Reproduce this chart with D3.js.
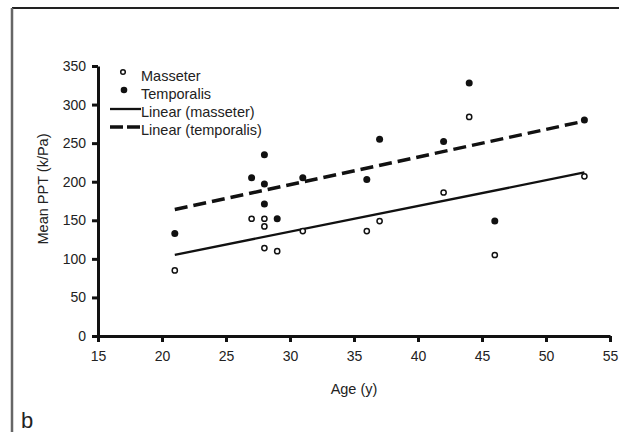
<!DOCTYPE html>
<html>
<head>
<meta charset="utf-8">
<script src="https://cdn.jsdelivr.net/npm/d3@7"></script>
<style>
	body { margin: 0; background: #ffffff; }
	text { font-family: "Liberation Sans", Arial, sans-serif; fill: #222222; }
</style>
</head>
<body>
<script>
// ages of the subjects (same for both muscles)
var ages = [21, 27, 28, 28, 28, 29, 31, 36, 37, 42, 44, 46, 53];
var masseter = [85, 152, 142, 152, 114, 110, 136, 136, 149, 186, 284, 105, 207];
var temporalis = [133, 205, 235, 197, 171, 152, 205, 203, 255, 252, 328, 149, 280];
var xTicks = [15, 20, 25, 30, 35, 40, 45, 50, 55];
var yTicks = [0, 50, 100, 150, 200, 250, 300, 350];
var legendLabels = ["Masseter", "Temporalis", "Linear (masseter)", "Linear (temporalis)"];

var svg = d3.select("body")
	.append("svg")
	.attr("width", 619)
	.attr("height", 432);

// frame of the panel
svg.append("line")
	.attr("x1", 12).attr("y1", 8).attr("x2", 619).attr("y2", 8)
	.attr("stroke", "#222222").attr("stroke-width", 2);
svg.append("line")
	.attr("x1", 12).attr("y1", 8).attr("x2", 12).attr("y2", 432)
	.attr("stroke", "#666666").attr("stroke-width", 2.5);

var x = d3.scaleLinear().domain([15, 55]).range([98, 610]);
var y = d3.scaleLinear().domain([0, 350]).range([336, 66]);

// least squares trend over the age range
function fit (xs, ys) {
	var mx = d3.mean(xs), my = d3.mean(ys);
	var sxy = d3.sum(xs, function (v, i) { return (v - mx) * (ys[i] - my); });
	var sxx = d3.sum(xs, function (v) { return (v - mx) * (v - mx); });
	var b = sxy / sxx;
	var a = my - b * mx;
	return d3.extent(xs).map(function (v) { return [v, a + b * v]; });
}

var line = d3.line()
	.x(function (d) { return x(d[0]); })
	.y(function (d) { return y(d[1]); });

// trend lines
svg.append("path")
	.attr("d", line(fit(ages, masseter)))
	.attr("fill", "none")
	.attr("stroke", "#111111")
	.attr("stroke-width", 2.3);
svg.append("path")
	.attr("d", line(fit(ages, temporalis)))
	.attr("fill", "none")
	.attr("stroke", "#111111")
	.attr("stroke-width", 3.5)
	.attr("stroke-dasharray", "13,6");

// points
svg.append("g").selectAll("circle")
	.data(ages)
	.enter().append("circle")
	.attr("cx", function (d) { return x(d); })
	.attr("cy", function (d, i) { return y(temporalis[i]); })
	.attr("r", 3.5)
	.attr("fill", "#111111");
svg.append("g").selectAll("circle")
	.data(ages)
	.enter().append("circle")
	.attr("cx", function (d) { return x(d); })
	.attr("cy", function (d, i) { return y(masseter[i]); })
	.attr("r", 2.6)
	.attr("fill", "#ffffff")
	.attr("stroke", "#111111")
	.attr("stroke-width", 1.5);

// axes
var xAxis = svg.append("g")
	.attr("transform", "translate(0," + y(0) + ")")
	.call(d3.axisBottom(x).tickValues(xTicks).tickSize(6).tickPadding(9).tickSizeOuter(0));
var yAxis = svg.append("g")
	.attr("transform", "translate(" + x(15) + ",0)")
	.call(d3.axisLeft(y).tickValues(yTicks).tickSize(6).tickPadding(6).tickSizeOuter(0));
[xAxis, yAxis].forEach(function (g) {
	g.select(".domain").attr("stroke", "#111111").attr("stroke-width", 3);
	g.selectAll(".tick line").attr("stroke", "#111111").attr("stroke-width", 3);
	g.selectAll(".tick text")
		.style("font-family", "'Liberation Sans', Arial, sans-serif")
		.style("font-size", "14px")
		.attr("fill", "#222222");
});

// axis titles
svg.append("text")
	.attr("x", 354)
	.attr("y", 394)
	.attr("text-anchor", "middle")
	.style("font-size", "14.5px")
	.text("Age (y)");
svg.append("text")
	.attr("transform", "translate(48,189) rotate(-90)")
	.attr("text-anchor", "middle")
	.style("font-size", "14.5px")
	.text("Mean PPT (k/Pa)");

// legend
var legend = svg.append("g");
legendLabels.forEach(function (label, i) {
	var ly = 76 + i * 18;
	legend.append("text")
		.attr("x", 141)
		.attr("y", ly + 5)
		.style("font-size", "14.5px")
		.text(label);
	if (i === 0) {
		legend.append("circle").attr("cx", 123).attr("cy", ly - 4).attr("r", 2.3)
			.attr("fill", "#ffffff").attr("stroke", "#111111").attr("stroke-width", 1.5);
	} else if (i === 1) {
		legend.append("circle").attr("cx", 124).attr("cy", ly - 4).attr("r", 3.3)
			.attr("fill", "#111111");
	} else {
		legend.append("line")
			.attr("x1", 110).attr("x2", 141)
			.attr("y1", ly - 3).attr("y2", ly - 3)
			.attr("stroke", "#111111")
			.attr("stroke-width", i === 2 ? 2.3 : 3.5)
			.attr("stroke-dasharray", i === 2 ? null : "13,4");
	}
});

// panel letter
svg.append("text")
	.attr("x", 21)
	.attr("y", 428)
	.style("font-size", "22px")
	.text("b");
</script>
</body>
</html>
